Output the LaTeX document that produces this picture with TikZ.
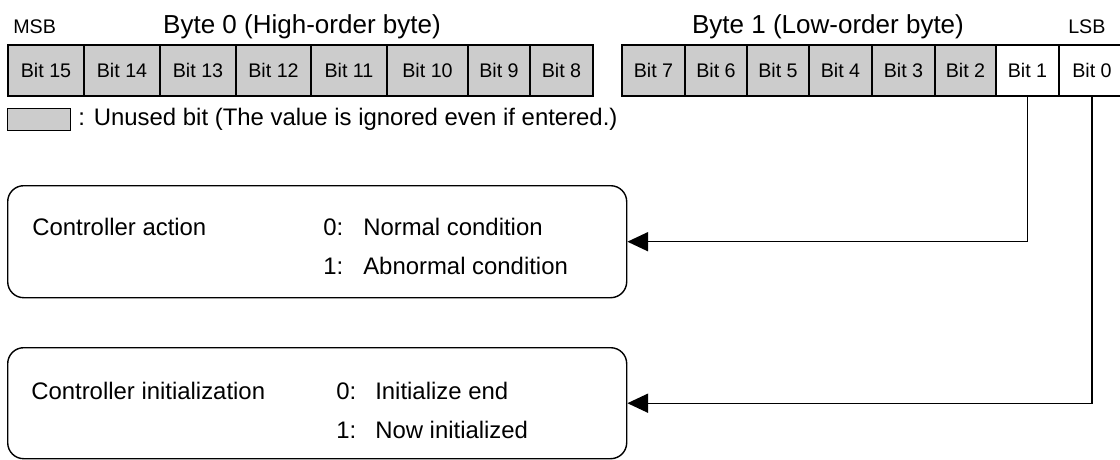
\documentclass[tikz,border=0pt]{standalone}
\usepackage{fontspec}
\setmainfont{Liberation Sans}
\usepackage{xcolor}
\usepackage{tikz}
\usetikzlibrary{arrows.meta, positioning}

\newcommand{\bitfont}{\fontsize{14}{16}\selectfont}
\newcommand{\headfont}{\fontsize{18.5}{21}\selectfont}
\newcommand{\boxfont}{\fontsize{17}{20}\selectfont}

\begin{document}
\begin{tikzpicture}[
    % one unit = one pixel of the 1120x460 layout
    x=0.025cm, y=-0.025cm,
    bitcell/.style={rectangle, draw=black, line width=1.3pt, outer sep=0pt,
                    minimum height=51*0.025cm, inner sep=0pt, font=\bitfont},
    unusedbit/.style={bitcell, fill=gray!40},
    usedbit/.style={bitcell, fill=white},
    keybox/.style={rectangle, draw=black, line width=0.8pt, fill=gray!40},
    ctrlbox/.style={rectangle, rounded corners=0.4cm, draw=black, line width=1pt,
                    minimum width=619*0.025cm},
    headtxt/.style={inner sep=0pt, font=\headfont},
    bittxt/.style={inner sep=0pt, font=\bitfont},
    boxtxt/.style={inner sep=0pt, font=\boxfont},
    arrow/.style={line width=1pt, -{Triangle[length=0.52cm, width=0.48cm]}}
]
\useasboundingbox (0,0) rectangle (1120,460);

%% ── Headings ────────────────────────────────────────────────
\node (msb) [bittxt, anchor=base west] at (13,33) {MSB};
\node (byte0) [headtxt, anchor=base] at (302,33) {Byte 0 (High-order byte)};
\node (byte1) [headtxt, anchor=base] at (828,33) {Byte 1 (Low-order byte)};
\node (lsb) [bittxt, anchor=base west] at (1068,33) {LSB};

%% ── Byte 0 ──────────────────────────────────────────────────
\node (b15) [unusedbit, anchor=west, minimum width=76*0.025cm] at (8,70.5) {Bit 15};
\foreach \n/\w [remember=\n as \prev (initially 15)] in {14/76,13/76,12/75,11/76,10/81,9/62,8/63}
    \node (b\n) [unusedbit, right=0pt of b\prev, minimum width=\w*0.025cm] {Bit \n};

%% ── Byte 1 ──────────────────────────────────────────────────
\node (b7) [unusedbit, anchor=west, minimum width=63*0.025cm] at (622,70.5) {Bit 7};
\foreach \n/\w [remember=\n as \prev (initially 7)] in {6/62,5/62,4/63,3/63,2/61}
    \node (b\n) [unusedbit, right=0pt of b\prev, minimum width=\w*0.025cm] {Bit \n};
\node (b1) [usedbit, right=0pt of b2, minimum width=63*0.025cm] {Bit 1};
\node (b0) [usedbit, right=0pt of b1, minimum width=66*0.025cm] {Bit 0};

%% ── Legend ──────────────────────────────────────────────────
\node (unusedkey) [keybox, anchor=north west, minimum width=63*0.025cm,
                   minimum height=22*0.025cm] at (7,108) {};
\node (unusednote) [boxtxt, right=0.175cm of unusedkey]
    {: Unused bit (The value is ignored even if entered.)};

%% ── Bit descriptions ────────────────────────────────────────
\node (ctrlact) [ctrlbox, anchor=north west, minimum height=112*0.025cm] at (7,185) {};
\node (actname) [boxtxt, anchor=base west] at (32,235) {Controller action};
\node (act0) [boxtxt, anchor=base west] at (323,235) {\makebox[1cm][l]{0:}Normal condition};
\node (act1) [boxtxt, anchor=base west] at (323,274) {\makebox[1cm][l]{1:}Abnormal condition};

\node (ctrlinit) [ctrlbox, anchor=north west, minimum height=111*0.025cm] at (7,347) {};
\node (initname) [boxtxt, anchor=base west] at (31,399) {Controller initialization};
\node (init0) [boxtxt, anchor=base west] at (336,399) {\makebox[0.975cm][l]{0:}Initialize end};
\node (init1) [boxtxt, anchor=base west] at (336,438) {\makebox[0.975cm][l]{1:}Now initialized};

%% ── Arrows ──────────────────────────────────────────────────
\draw [arrow] (b1.south) |- (ctrlact.east);
\draw [arrow] (b0.south) |- (ctrlinit.east);

\end{tikzpicture}
\end{document}
